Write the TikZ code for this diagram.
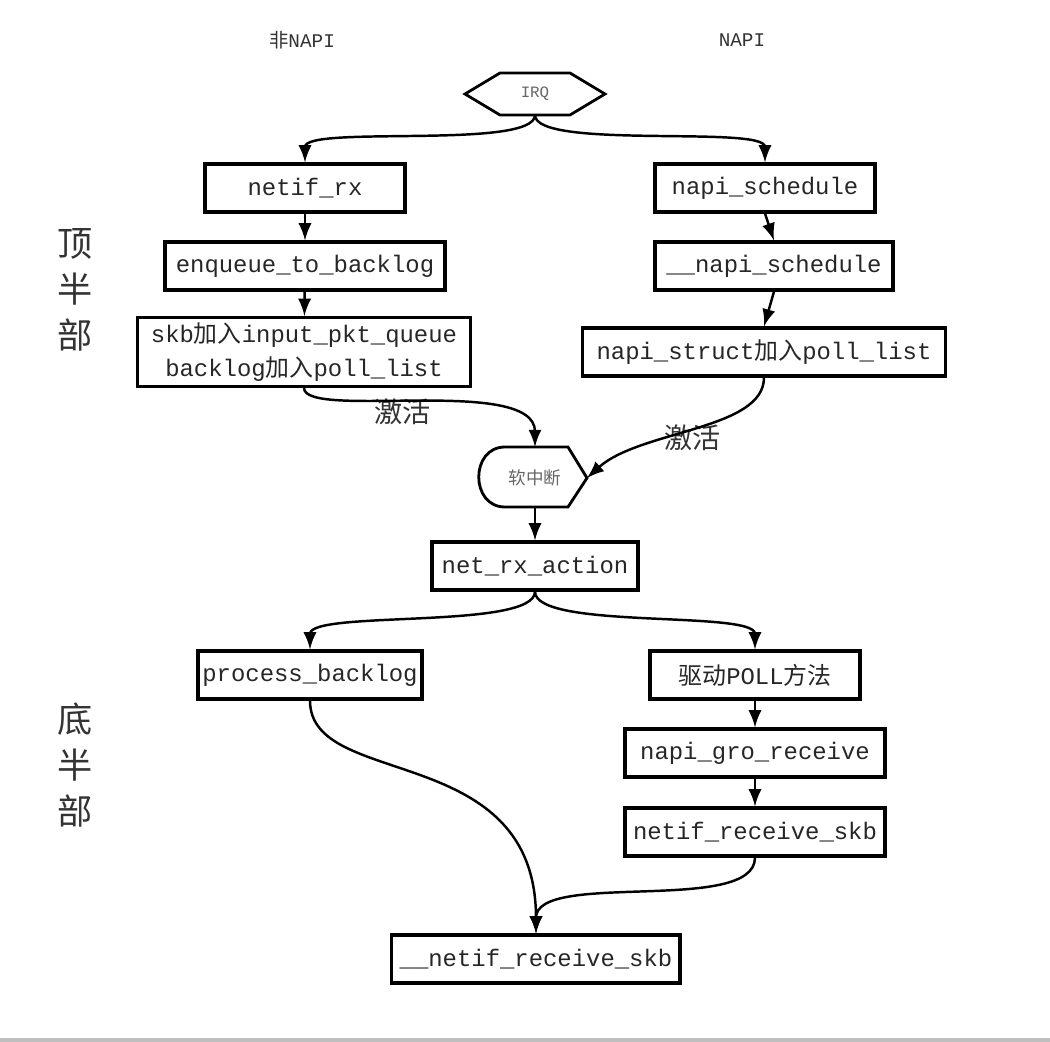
\documentclass[tikz,border=0pt]{standalone}
\usepackage{fontspec}
\setmainfont{Liberation Mono}
\newfontfamily\cjk{Noto Sans CJK SC}
\usetikzlibrary{arrows}
\newcommand{\zh}[1]{{\cjk #1}}
\tikzset{
  box/.style={rectangle,draw=black,line width=0.9pt,minimum height=0.48cm,inner sep=1pt,align=center,text=black!85,font=\fontsize{6.8}{9.5}\selectfont},
  link/.style={-latex,line width=0.7pt},
}
\begin{document}
\begin{tikzpicture}[x=0.01cm,y=-0.01cm]
\useasboundingbox (0,0) rectangle (1050,1042);
\draw[black!25,line width=1pt] (0,1040) -- (1050,1040);
% column titles
\node at (302,40)[font=\fontsize{5.5}{7}\selectfont,text=black!80](tnon){\zh{非}NAPI};
\node at (742,40)[font=\fontsize{5.5}{7}\selectfont,text=black!80](tnapi){NAPI};
\node at (75,290)[align=center,font=\cjk\fontsize{10}{13}\selectfont,text=black!80](top){顶\\半\\部};
\node at (75,765)[align=center,font=\cjk\fontsize{10}{13}\selectfont,text=black!80](bottom){底\\半\\部};
% IRQ
\draw[line width=0.8pt] (465,94) -- (500,73) -- (570,73) -- (605,94) -- (570,115) -- (500,115) -- cycle;
\node at (535,94)[font=\fontsize{4.5}{6}\selectfont,text=black!60](irq){IRQ};
\coordinate (irqb) at (535,115);
% soft irq
\draw[line width=0.8pt] (568,447) -- (505,447) .. controls (470,447) and (470,507) .. (505,507) -- (568,507) -- (587,478) -- cycle;
\node at (535,478)[font=\cjk\fontsize{5}{6}\selectfont,text=black!60](sirq){软中断};
\coordinate (sirqt) at (535,447);
\coordinate (sirqr) at (587,478);
\coordinate (sirqb) at (535,507);
% top half
\node at (305,188)[box,minimum width=2.0cm](rx){netif\_rx};
\node at (765,188)[box,minimum width=2.2cm](nsch){napi\_schedule};
\node at (305,266)[box,minimum width=2.8cm](enq){enqueue\_to\_backlog};
\node at (774,266)[box,minimum width=2.38cm](nsch2){\_\_napi\_schedule};
\node at (304,352)[box,minimum width=3.32cm,minimum height=0.69cm](skb){skb\zh{加入}input\_pkt\_queue\\backlog\zh{加入}poll\_list};
\node at (764,352)[box,minimum width=3.62cm](nst){napi\_struct\zh{加入}poll\_list};
\node at (403,412)[font=\cjk\fontsize{8}{10}\selectfont,text=black!80](act1){激活};
\node at (693,438)[font=\cjk\fontsize{8}{10}\selectfont,text=black!80](act2){激活};
% bottom half
\node at (535,566)[box,minimum width=2.06cm](nra){net\_rx\_action};
\node at (310,675)[box,minimum width=2.24cm](pb){process\_backlog};
\node at (755,675)[box,minimum width=2.1cm](poll){\zh{驱动}POLL\zh{方法}};
\node at (755,753)[box,minimum width=2.6cm](gro){napi\_gro\_receive};
\node at (755,832)[box,minimum width=2.6cm](nrs){netif\_receive\_skb};
\node at (536,959)[box,minimum width=2.88cm](nrs2){\_\_netif\_receive\_skb};
% connectors
\draw[link] (irqb) .. controls (535,150) and (305,125) .. (rx.north);
\draw[link] (irqb) .. controls (535,150) and (765,125) .. (nsch.north);
\draw[link] (rx) -- (enq);
\draw[link] (enq) -- (skb);
\draw[link] (nsch.south) -- (nsch2.north);
\draw[link] (nsch2.south) -- (nst.north);
\draw[link] (skb.south) .. controls (305,420) and (535,375) .. (sirqt);
\draw[link] (nst.south) .. controls (764,430) and (640,430) .. (sirqr);
\draw[link] (sirqb) -- (nra);
\draw[link] (nra.south) .. controls (535,630) and (310,610) .. (pb.north);
\draw[link] (nra.south) .. controls (535,630) and (755,610) .. (poll.north);
\draw[link] (poll) -- (gro);
\draw[link] (gro) -- (nrs);
\draw[link] (pb.south) .. controls (310,790) and (536,740) .. (nrs2.north);
\draw[link] (nrs.south) .. controls (755,915) and (536,870) .. (nrs2.north);
\end{tikzpicture}
\end{document}
